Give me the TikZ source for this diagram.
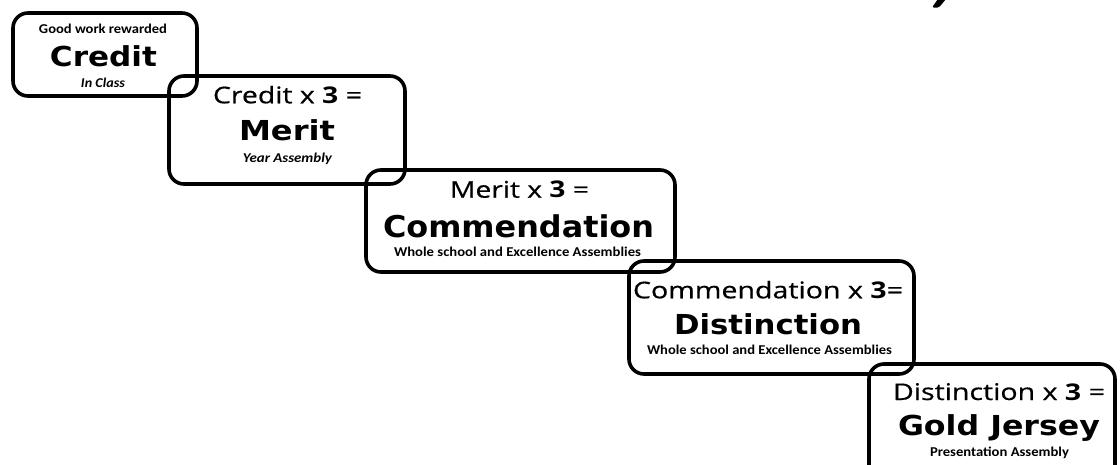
\documentclass[tikz,border=0pt]{standalone}
\usepackage{fontspec}
\usepackage{graphicx}
\newfontfamily\linefont{Open Sans}[UprightFeatures={FakeBold=0.5}]
\newfontfamily\titlefont{DejaVu Sans}
\newfontfamily\notefont{Carlito}
% stretch a line of text to a given width (in pt), keeping its height
\newcommand{\fitw}[2]{\resizebox{#1pt}{\height}{#2}}

\begin{document}
\begin{tikzpicture}[x=1pt,y=-1pt,
  award/.style={line width=3.6pt, rounded corners=15pt, draw=black},
  txt/.style={inner sep=0pt, anchor=base, text=black},
  eqline/.style={txt, font=\linefont\fontsize{23}{23}\selectfont},
  title/.style={txt, font=\titlefont\bfseries\fontsize{27.5}{27.5}\selectfont},
  bigtitle/.style={txt, font=\titlefont\bfseries\fontsize{30}{30}\selectfont},
  note/.style={txt, font=\notefont\bfseries\fontsize{13.5}{13.5}\selectfont},
  noteit/.style={txt, font=\notefont\bfseries\itshape\fontsize{13.5}{13.5}\selectfont}]

\useasboundingbox (0,0) rectangle (1120,464);
\clip (0,0) rectangle (1120,464);

% tail of the heading's last letter at the top edge
\fill[black, rounded corners=1.5pt] (932,7.5) -- (939,7.5) -- (946,-1) -- (938,-1) -- cycle;

% the five award boxes, stepping down to the right
\draw[award] (13,13) rectangle (197,96);
\draw[award] (169,76) rectangle (405,184);
\draw[award] (366,170) rectangle (675,272);
\draw[award] (629,261) rectangle (914,374);
\draw[award] (869,364) rectangle (1115,480);

% Credit
\node[note]   (credTop)   at (103,33)    {\fitw{128}{Good work rewarded}};
\node[title]  (credName)  at (103.5,66.7){\fitw{107}{Credit}};
\node[noteit] (credWhere) at (103,87)    {\fitw{44}{In Class}};

% Merit
\node[eqline] (merTop)    at (287.5,103.3){\fitw{149}{Credit x \textbf{3} =}};
\node[title]  (merName)   at (287,140)    {\fitw{96}{Merit}};
\node[noteit] (merWhere)  at (287.5,162)  {\fitw{89}{Year Assembly}};

% Commendation
\node[eqline]   (comTop)   at (519.5,197.7){\fitw{139}{Merit x \textbf{3} =}};
\node[bigtitle] (comName)  at (518.5,237.3){\fitw{271}{Commendation}};
\node[note]     (comWhere) at (517.5,256)  {\fitw{247}{Whole school and Excellence Assemblies}};

% Distinction
\node[eqline] (disTop)    at (768,298.3)  {\fitw{270}{Commendation x \textbf{3}=}};
\node[title]  (disName)   at (768,334)    {\fitw{188}{Distinction}};
\node[note]   (disWhere)  at (769.5,354.3){\fitw{245}{Whole school and Excellence Assemblies}};

% Gold Jersey
\node[eqline] (goldTop)   at (999,400)    {\fitw{212}{Distinction x \textbf{3} =}};
\node[title]  (goldName)  at (999,435)    {\fitw{202}{Gold Jersey}};
\node[note]   (goldWhere) at (999.5,456.7){\fitw{139}{Presentation Assembly}};
\end{tikzpicture}
\end{document}
